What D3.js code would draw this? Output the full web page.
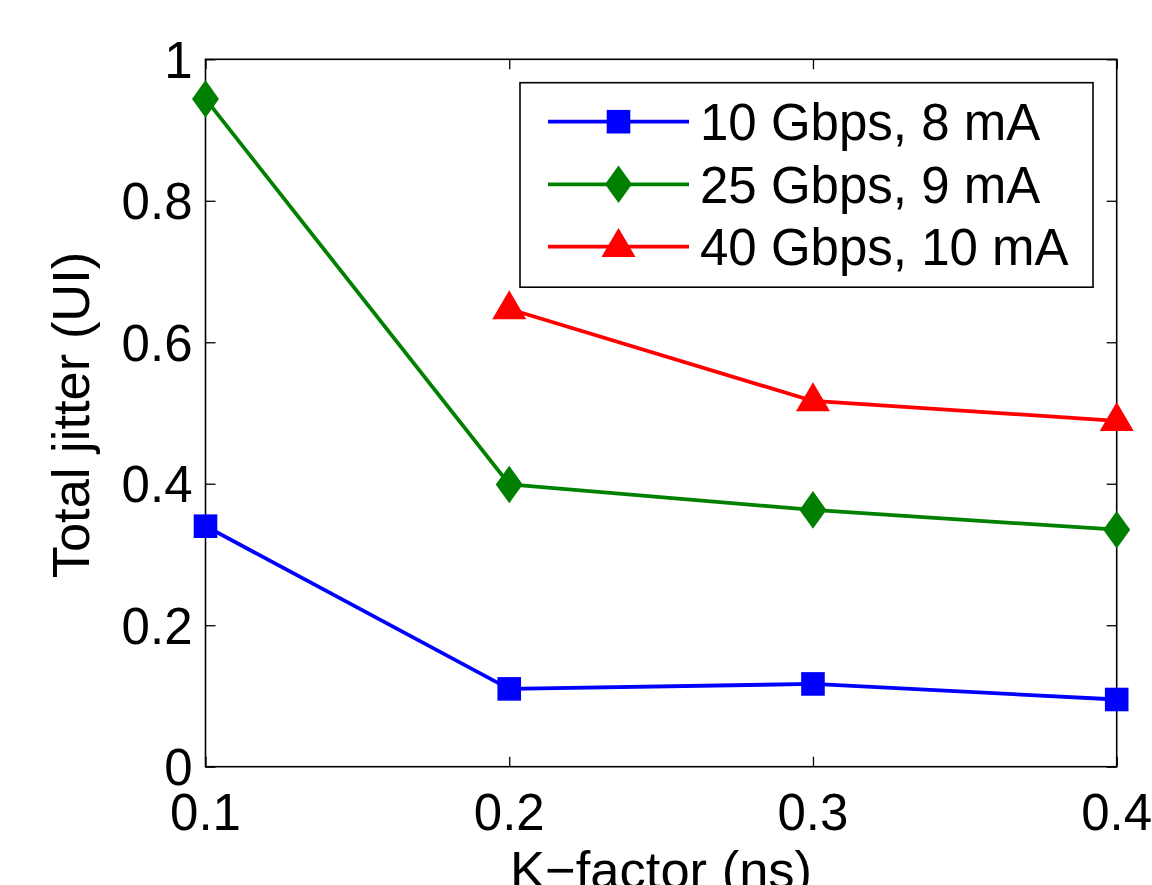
<!DOCTYPE html>
<html>
<head>
<meta charset="utf-8">
<script src="https://cdn.jsdelivr.net/npm/d3@7/dist/d3.min.js"></script>
<style>
html,body{margin:0;padding:0;background:#fff;}
svg{display:block;}
text{font-family:"Liberation Sans",Arial,Helvetica,sans-serif;fill:#000;}
</style>
</head>
<body>
<svg id="chart" width="1152" height="885"></svg>
<script>
const kFactor = [0.1, 0.2, 0.3, 0.4];
const xTicks = [0.1, 0.2, 0.3, 0.4];
const yTicks = [0, 0.2, 0.4, 0.6, 0.8, 1];
const series10 = [0.340, 0.110, 0.117, 0.095];
const series25 = [0.944, 0.399, 0.363, 0.335];
const series40 = [null, 0.647, 0.517, 0.489];
const seriesNames = ["10 Gbps, 8 mA", "25 Gbps, 9 mA", "40 Gbps, 10 mA"];
const seriesColors = ["#0000ff", "#008000", "#ff0000"];
const seriesMarkers = ["square", "diamond", "triangle"];
const xLabel = "K\u2212factor (ns)";
const yLabel = "Total jitter (UI)";

const allSeries = [series10, series25, series40].map((vals, i) => ({
  name: seriesNames[i], color: seriesColors[i], marker: seriesMarkers[i],
  points: kFactor.map((k, j) => ({x: k, y: vals[j]})).filter(p => p.y !== null)
}));

const svg = d3.select("#chart");
const L = 205.5, R = 1116.7, T = 59.3, B = 766.7;
const x = d3.scaleLinear().domain([0.1, 0.4]).range([L, R]);
const y = d3.scaleLinear().domain([0, 1]).range([B, T]);
const FS = 51;
const FSL = 52.5;

function markerPath(type) {
  if (type === "square") return "M-11.8,-11.8H11.8V11.8H-11.8Z";
  if (type === "diamond") return "M0,-18.8L13.5,0L0,18.8L-13.5,0Z";
  return "M0,-18.8L17,10.2L-17,10.2Z";
}

// axes box
svg.append("rect").attr("x", L).attr("y", T).attr("width", R - L).attr("height", B - T)
  .attr("fill", "none").attr("stroke", "#000").attr("stroke-width", 1.6);

const tickLen = 10;
const xAxisB = d3.axisBottom(x).tickValues(xTicks).tickSizeInner(-tickLen).tickSizeOuter(0).tickFormat("");
const gxb = svg.append("g").attr("transform", `translate(0,${B})`).call(xAxisB);
const xAxisT = d3.axisTop(x).tickValues(xTicks).tickSizeInner(-tickLen).tickSizeOuter(0).tickFormat("");
const gxt = svg.append("g").attr("transform", `translate(0,${T})`).call(xAxisT);
const yAxisL = d3.axisLeft(y).tickValues(yTicks).tickSizeInner(-tickLen).tickSizeOuter(0).tickFormat("");
const gyl = svg.append("g").attr("transform", `translate(${L},0)`).call(yAxisL);
const yAxisR = d3.axisRight(y).tickValues(yTicks).tickSizeInner(-tickLen).tickSizeOuter(0).tickFormat("");
const gyr = svg.append("g").attr("transform", `translate(${R},0)`).call(yAxisR);
[gxb, gxt, gyl, gyr].forEach(g => {
  g.select(".domain").remove();
  g.selectAll("line").attr("stroke", "#000").attr("stroke-width", 1.3);
});

// tick labels
svg.append("g").selectAll("text").data(xTicks).join("text")
  .attr("x", d => x(d)).attr("y", B + 63)
  .attr("text-anchor", "middle").attr("font-size", FS)
  .text(d => d3.format(".1f")(d));
svg.append("g").selectAll("text").data(yTicks).join("text")
  .attr("x", L - 13).attr("y", d => y(d) + 18.5)
  .attr("text-anchor", "end").attr("font-size", FS)
  .text(d => d === 0 || d === 1 ? String(d) : d3.format(".1f")(d));

// axis labels
svg.append("text").attr("x", (L + R) / 2).attr("y", 888)
  .attr("text-anchor", "middle").attr("font-size", FSL).text(xLabel);
svg.append("text").attr("transform", `translate(89,${(T + B) / 2 + 2}) rotate(-90)`)
  .attr("text-anchor", "middle").attr("font-size", FSL).text(yLabel);

// series
const line = d3.line().x(d => x(d.x)).y(d => y(d.y));
const gs = svg.append("g").selectAll("g").data(allSeries).join("g");
gs.append("path").attr("d", d => line(d.points)).attr("fill", "none")
  .attr("stroke", d => d.color).attr("stroke-width", 3.8).attr("stroke-linejoin", "round");
gs.each(function(s) {
  d3.select(this).selectAll("path.mk").data(s.points).join("path").attr("class", "mk")
    .attr("d", markerPath(s.marker))
    .attr("transform", p => `translate(${x(p.x)},${y(p.y)})`)
    .attr("fill", s.color);
});

// legend
const lg = svg.append("g");
lg.append("rect").attr("x", 520).attr("y", 82.7).attr("width", 573).attr("height", 204.5)
  .attr("fill", "#fff").attr("stroke", "#000").attr("stroke-width", 1.6);
const rowY = [121.7, 184.3, 246.7];
const items = lg.selectAll("g").data(allSeries).join("g")
  .attr("transform", (d, i) => `translate(0,${rowY[i]})`);
items.append("line").attr("x1", 548).attr("x2", 689).attr("y1", 0).attr("y2", 0)
  .attr("stroke", d => d.color).attr("stroke-width", 3.8);
items.append("path").attr("d", d => markerPath(d.marker))
  .attr("transform", "translate(618.5,0)").attr("fill", d => d.color);
items.append("text").attr("x", 700).attr("y", 18.5).attr("font-size", FS).text(d => d.name);
</script>
</body>
</html>
